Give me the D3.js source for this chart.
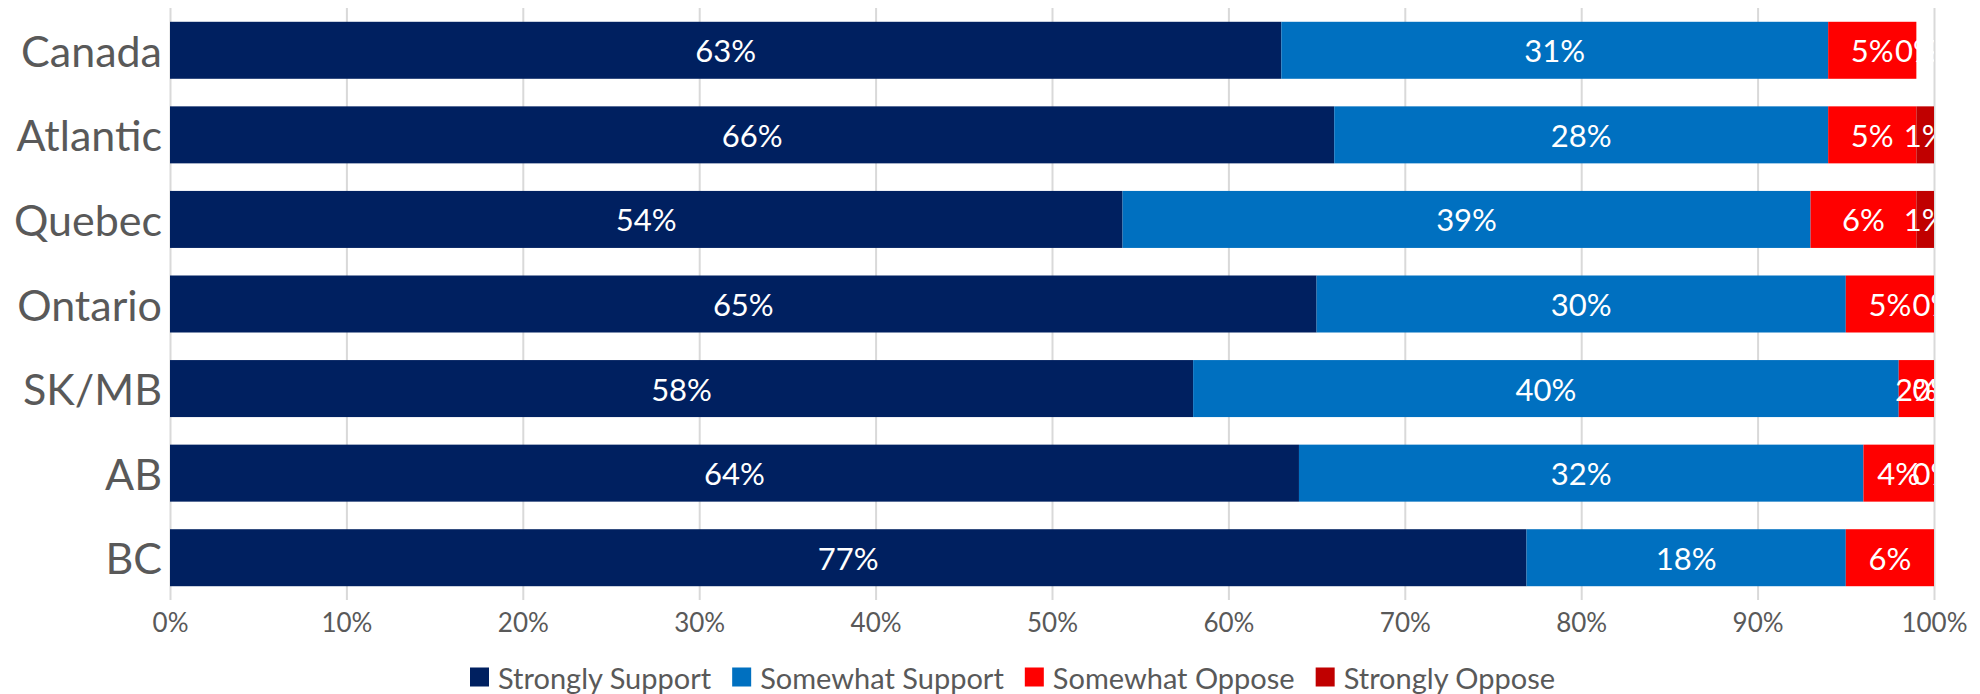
<!DOCTYPE html>
<html><head><meta charset="utf-8">
<script src="https://cdn.jsdelivr.net/npm/d3@7"></script>
<style>html,body{margin:0;padding:0;background:#fff;}svg{display:block;}</style>
</head><body>
<svg id="chart" width="1980" height="694"></svg>
<script>
const categories = ["Canada","Atlantic","Quebec","Ontario","SK/MB","AB","BC"];
const seriesNames = ["Strongly Support","Somewhat Support","Somewhat Oppose","Strongly Oppose"];
const stronglySupport = [63, 66, 54, 65, 58, 64, 76.9];
const somewhatSupport = [31, 28, 39, 30, 40, 32, 18.1];
const somewhatOppose  = [5, 5, 6, 5, 2, 4, 5.5];
const stronglyOppose  = [0, 1, 1, 0, 0, 0, null];
const tickValues = [0,10,20,30,40,50,60,70,80,90,100];
const colors = ["#002060","#0070C0","#FF0000","#C00000"];

const series = [stronglySupport, somewhatSupport, somewhatOppose, stronglyOppose];
const svg = d3.select("#chart");
const font = "Lato, 'Open Sans', sans-serif";
const m = {left:170, right:1934, top:8, bottom:600};

const x = d3.scaleLinear().domain([0,100]).range([m.left, m.right]);
const y = d3.scaleBand().domain(categories).range([m.top, m.bottom]).paddingInner(0.326).paddingOuter(0.163);

svg.append("defs").append("clipPath").attr("id","plotclip")
  .append("rect").attr("x", m.left).attr("y", 0).attr("width", m.right - m.left).attr("height", 694);

// gridlines
const xAxis = d3.axisBottom(x).tickValues(tickValues).tickSize(-(m.bottom - m.top)).tickFormat(d => d + "%").tickPadding(10);
const gx = svg.append("g").attr("transform", `translate(0,${m.bottom})`).call(xAxis);
gx.select(".domain").remove();
gx.selectAll(".tick line").attr("stroke","#D9D9D9").attr("stroke-width",2);
gx.selectAll(".tick text").attr("fill","#595959").style("font-family",font).style("font-size","26px").attr("dy","0.71em").attr("y",14);

// stacked data
const rows = categories.map((c,i) => {
  let acc = 0;
  return series.map((s,k) => {
    const v = s[i];
    const d = {cat:c, k, v, x0:acc, x1:acc + (v == null ? 0 : v)};
    acc = d.x1;
    return d;
  }).filter(d => d.v != null);
});

const plot = svg.append("g").attr("clip-path","url(#plotclip)");
rows.forEach(r => {
  plot.selectAll(null).data(r).enter().append("rect")
    .attr("x", d => x(d.x0))
    .attr("width", d => Math.max(0, x(d.x1) - x(d.x0)))
    .attr("y", d => y(d.cat))
    .attr("height", y.bandwidth())
    .attr("fill", d => colors[d.k]);
});
rows.forEach(r => {
  plot.selectAll(null).data(r).enter().append("text")
    .attr("x", d => x((d.x0 + Math.min(d.x1, 100))/2))
    .attr("y", d => y(d.cat) + y.bandwidth()/2)
    .attr("text-anchor","middle").attr("dominant-baseline","central")
    .attr("fill","#fff").style("font-family",font).style("font-size","31px")
    .text(d => Math.round(d.v) + "%");
});

// category labels
svg.append("g").selectAll("text").data(categories).enter().append("text")
  .attr("x", 162).attr("y", d => y(d) + y.bandwidth()/2)
  .attr("text-anchor","end").attr("dominant-baseline","central")
  .attr("fill","#595959").style("font-family",font).style("font-size","43px")
  .text(d => d);

// legend
const lg = svg.append("g");
let lx = 470;
const ly = 677;
seriesNames.forEach((n,i) => {
  lg.append("rect").attr("x", lx).attr("y", ly - 9.5).attr("width", 19).attr("height", 19).attr("fill", colors[i]);
  const t = lg.append("text").attr("x", lx + 28).attr("y", ly).attr("dominant-baseline","central")
    .attr("fill","#595959").style("font-family",font).style("font-size","29px").text(n);
  lx = lx + 28 + t.node().getComputedTextLength() + 21;
});
</script>
</body></html>
